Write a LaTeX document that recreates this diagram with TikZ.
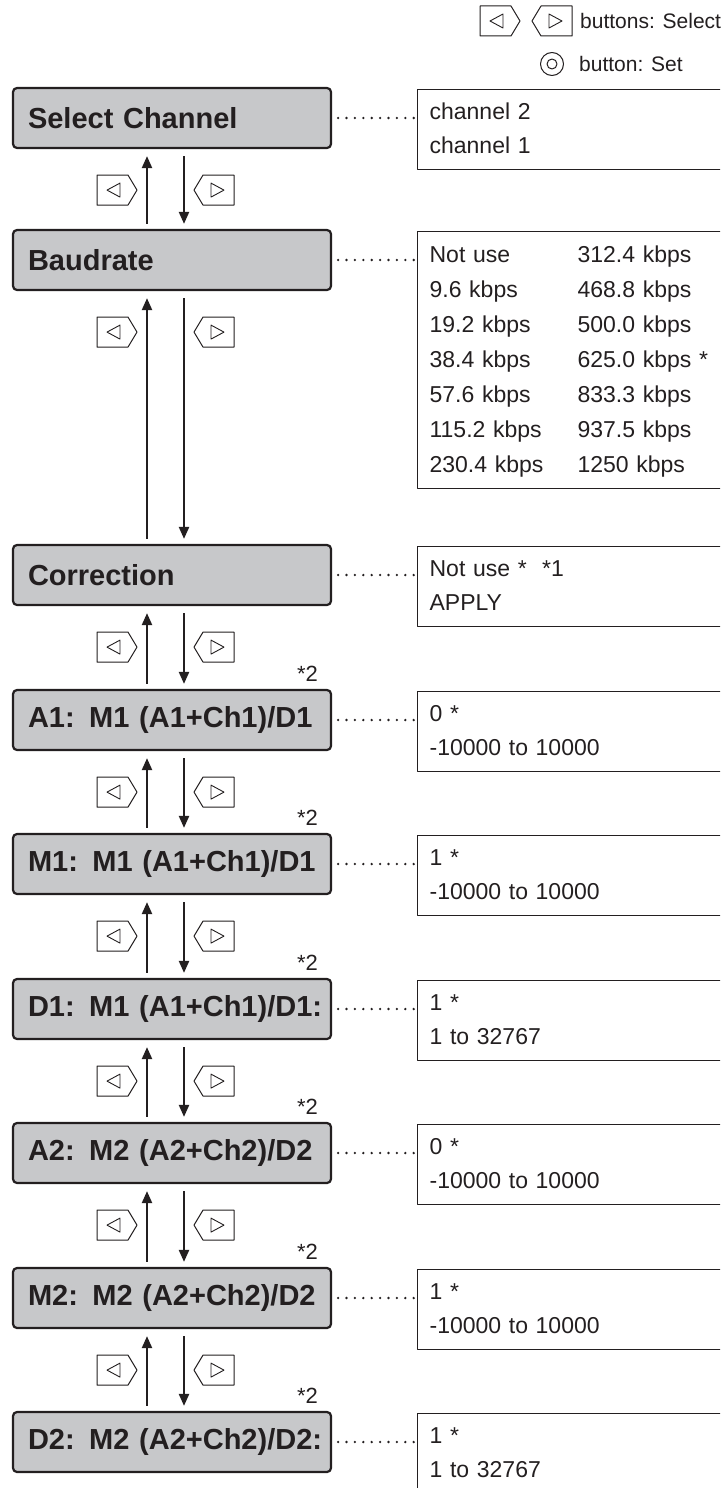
\documentclass[tikz,border=0pt]{standalone}
\usepackage{fontspec}
\setmainfont{Liberation Sans}
\newfontfamily\boxfont{Liberation Sans}[WordSpace=0.75]
\usetikzlibrary{arrows.meta}
\definecolor{ink}{HTML}{231F20}
\definecolor{menugray}{HTML}{C7C8CA}
\tikzset{
  menu/.style={draw=ink,line width=2.2pt,fill=menugray,rounded corners=4pt,text=ink,
    font=\boxfont\bfseries\fontsize{29}{32}\selectfont,
    text width=288pt,inner xsep=15pt,inner ysep=0pt,minimum height=60pt,align=left},
  vals/.style={draw=ink,line width=1.2pt,anchor=north west,text=ink,
    font=\fontsize{23}{34}\selectfont,text width=300pt,inner xsep=12pt,inner ysep=6pt,align=left},
  note/.style={text=ink,font=\fontsize{22}{26}\selectfont,inner sep=0pt},
  key/.style={note,font=\fontsize{21}{26}\selectfont,anchor=west},
  flow/.style={draw=ink,line width=2.2pt},
  leader/.style={draw=ink,line width=2.6pt,line cap=round,dash pattern=on 0pt off 8.4pt,
    shorten <=6pt,shorten >=3pt},
  leftbtn/.pic={
    \draw[ink,line width=1pt,fill=white] (-20,-15) -- (11,-15) -- (20,0) -- (11,15) -- (-20,15) -- cycle;
    \draw[ink,line width=.9pt] (-10,0) -- (3,-7) -- (3,7) -- cycle;
  },
  rightbtn/.pic={
    \draw[ink,line width=1pt,fill=white] (20,-15) -- (-11,-15) -- (-20,0) -- (-11,15) -- (20,15) -- cycle;
    \draw[ink,line width=.9pt] (10,0) -- (-3,-7) -- (-3,7) -- cycle;
  },
}
\begin{document}
\begin{tikzpicture}[x=1pt,y=-1pt,line join=round,>={Triangle[length=12pt,width=10pt]}]
\clip (0,0) rectangle (720,1488);
% key
\pic (keyl) at (500,21) {leftbtn};
\pic (keyr) at (552,21) {rightbtn};
\node[key] (keysel) at (580,21) {buttons: Select};
\node[circle,draw=ink,line width=1pt,minimum size=23pt,inner sep=0pt] (setbtn) at (552,64) {};
\node[circle,draw=ink,line width=1pt,minimum size=10pt,inner sep=0pt] (setdot) at (setbtn) {};
\node[key] (keyset) at (579,64) {button: Set};
% menu items
\foreach \n/\y/\lab in {sel/118/Select Channel,baud/260/Baudrate,corr/575/Correction,
  a1/720/{A1: M1 (A1+Ch1)/D1},m1/864/{M1: M1 (A1+Ch1)/D1},d1/1009/{D1: M1 (A1+Ch1)/D1:},
  a2/1153/{A2: M2 (A2+Ch2)/D2},m2/1298/{M2: M2 (A2+Ch2)/D2},d2/1442/{D2: M2 (A2+Ch2)/D2:}}
  \node[menu] (\n) at (172,\y) {\mbox{\lab}};
\foreach \n in {a1,m1,d1,a2,m2,d2}
  \node[note,anchor=south east] (\n-note) at ([xshift=-14pt,yshift=7pt]\n.north east) {*2};
% settings
\node[vals] (sel-v) at (417,89) {\begin{tabular}{@{}l@{}}channel 2\\channel 1\end{tabular}};
\node[vals,font=\fontsize{23}{35}\selectfont] (baud-v) at (417,231) {\begin{tabular}{@{}p{148pt}@{}l@{}}
  Not use & 312.4 kbps\\ 9.6 kbps & 468.8 kbps\\ 19.2 kbps & 500.0 kbps\\
  38.4 kbps & 625.0 kbps *\\ 57.6 kbps & 833.3 kbps\\ 115.2 kbps & 937.5 kbps\\
  230.4 kbps & 1250 kbps\end{tabular}};
\node[vals] (corr-v) at (417,546) {\begin{tabular}{@{}l@{}}Not use *\ \ *1\\APPLY\end{tabular}};
\node[vals] (a1-v) at (417,691) {\begin{tabular}{@{}l@{}}0 *\\-10000 to 10000\end{tabular}};
\node[vals] (m1-v) at (417,835) {\begin{tabular}{@{}l@{}}1 *\\-10000 to 10000\end{tabular}};
\node[vals] (d1-v) at (417,980) {\begin{tabular}{@{}l@{}}1 *\\1 to 32767\end{tabular}};
\node[vals] (a2-v) at (417,1124) {\begin{tabular}{@{}l@{}}0 *\\-10000 to 10000\end{tabular}};
\node[vals] (m2-v) at (417,1269) {\begin{tabular}{@{}l@{}}1 *\\-10000 to 10000\end{tabular}};
\node[vals] (d2-v) at (417,1413) {\begin{tabular}{@{}l@{}}1 *\\1 to 32767\end{tabular}};
\foreach \n in {sel,baud,corr,a1,m1,d1,a2,m2,d2}
  \draw[leader] (\n.east) -- (\n.east -| \n-v.west);
% moves
\foreach \a/\b in {sel/baud,baud/corr,corr/a1,a1/m1,m1/d1,d1/a2,a2/m2,m2/d2}{
  \draw[flow,->] ([xshift=-25pt,yshift=5pt]\b.north) -- ([xshift=-25pt,yshift=-7pt]\a.south);
  \draw[flow,->] ([xshift=12pt,yshift=-7pt]\a.south) -- ([xshift=12pt,yshift=5pt]\b.north);
  \pic (\a-up) at ([xshift=-55pt,yshift=-41pt]\a.south) {leftbtn};
  \pic (\a-dn) at ([xshift=42pt,yshift=-41pt]\a.south) {rightbtn};
}
\end{tikzpicture}
\end{document}
